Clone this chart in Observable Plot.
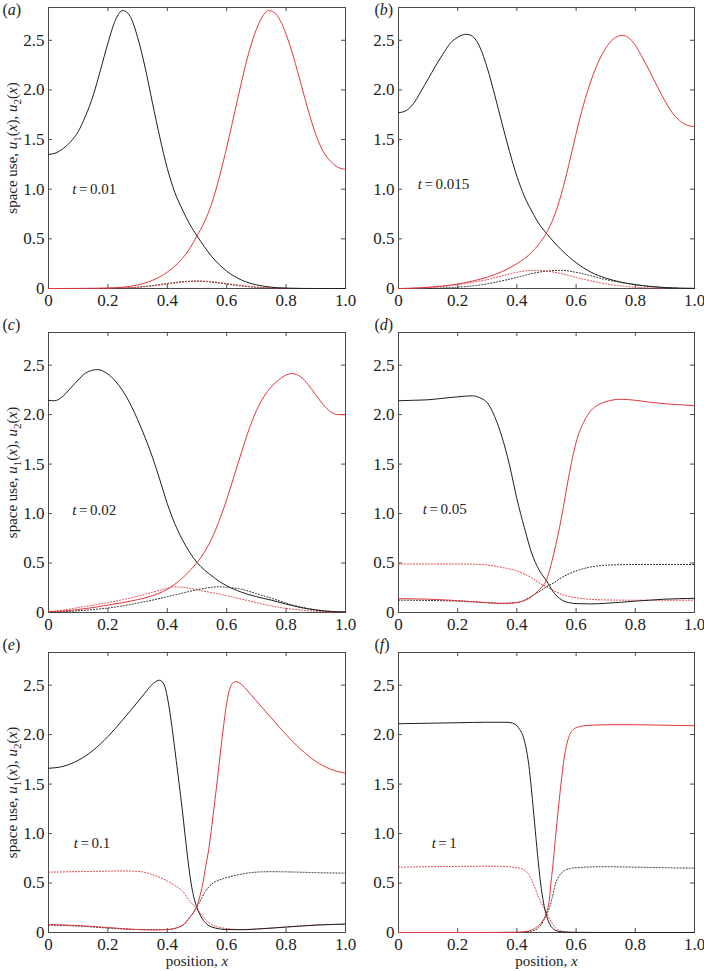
<!DOCTYPE html>
<html><head><meta charset="utf-8">
<script src="https://cdn.jsdelivr.net/npm/d3@7"></script>
<script src="https://cdn.jsdelivr.net/npm/@observablehq/plot@0.6"></script>
<style>
body{margin:0;background:#fff;}
#fig{position:relative;width:704px;height:971px;}
#fig svg{position:absolute;overflow:visible;}
</style></head><body><div id="fig"></div>
<script>
// ---------- data ----------
const xTicks = [0, 0.2, 0.4, 0.6, 0.8, 1.0];
const yTicks = [0, 0.5, 1.0, 1.5, 2.0, 2.5];
const panelLetters = ["a", "b", "c", "d", "e", "f"];
const timeValues = ["0.01", "0.015", "0.02", "0.05", "0.1", "1"];
const timeLabelAt = [[0.08, 1.005], [0.065, 1.05], [0.08, 1.03], [0.082, 1.04], [0.085, 0.9], [0.112, 0.9]];

// (a) t = 0.01
const a_u1 = [[0,1.35],[0.025,1.365],[0.05,1.41],[0.075,1.48],[0.1,1.58],[0.125,1.74],[0.15,1.94],[0.175,2.20],[0.2,2.47],[0.225,2.70],[0.25,2.80],[0.275,2.74],[0.3,2.53],[0.325,2.23],[0.35,1.87],[0.375,1.52],[0.4,1.21],[0.425,0.97],[0.45,0.80],[0.475,0.65],[0.5,0.53],[0.525,0.42],[0.55,0.32],[0.575,0.24],[0.6,0.175],[0.65,0.085],[0.7,0.037],[0.75,0.013],[0.8,0.004],[0.9,0],[1,0]];
const a_u2 = [[0,0],[0.1,0.001],[0.2,0.005],[0.25,0.013],[0.3,0.036],[0.35,0.082],[0.4,0.165],[0.45,0.30],[0.475,0.40],[0.5,0.53],[0.525,0.67],[0.55,0.86],[0.575,1.12],[0.6,1.42],[0.625,1.75],[0.65,2.08],[0.675,2.38],[0.7,2.61],[0.725,2.76],[0.74,2.80],[0.76,2.78],[0.78,2.70],[0.8,2.56],[0.825,2.33],[0.85,2.06],[0.875,1.79],[0.9,1.55],[0.925,1.38],[0.95,1.28],[0.975,1.22],[1,1.20]];
const a_v1 = [[0.2,0.001],[0.25,0.005],[0.3,0.014],[0.35,0.03],[0.4,0.05],[0.45,0.068],[0.5,0.074],[0.55,0.064],[0.6,0.045],[0.65,0.025],[0.7,0.012],[0.8,0.002]];
const a_v2 = [[0.2,0.002],[0.3,0.012],[0.35,0.025],[0.4,0.045],[0.45,0.064],[0.5,0.074],[0.55,0.068],[0.6,0.05],[0.65,0.03],[0.7,0.014],[0.75,0.005],[0.8,0.001]];

// (b) t = 0.015
const b_u1 = [[0,1.77],[0.025,1.79],[0.05,1.86],[0.075,1.98],[0.1,2.11],[0.125,2.24],[0.15,2.36],[0.175,2.47],[0.2,2.53],[0.23,2.56],[0.25,2.54],[0.275,2.43],[0.3,2.22],[0.325,1.95],[0.35,1.66],[0.375,1.38],[0.4,1.13],[0.425,0.93],[0.45,0.78],[0.475,0.65],[0.5,0.555],[0.55,0.39],[0.6,0.26],[0.65,0.165],[0.7,0.105],[0.75,0.065],[0.8,0.038],[0.85,0.02],[0.9,0.009],[0.95,0.004],[1,0.002]];
const b_u2 = [[0,0],[0.05,0.004],[0.1,0.012],[0.15,0.025],[0.2,0.045],[0.25,0.075],[0.3,0.115],[0.35,0.17],[0.4,0.25],[0.425,0.30],[0.45,0.365],[0.475,0.45],[0.5,0.56],[0.525,0.72],[0.55,0.95],[0.575,1.24],[0.6,1.56],[0.625,1.85],[0.65,2.09],[0.675,2.28],[0.7,2.42],[0.725,2.51],[0.757,2.55],[0.775,2.53],[0.8,2.45],[0.825,2.32],[0.85,2.18],[0.875,2.03],[0.9,1.89],[0.925,1.77],[0.95,1.69],[0.975,1.645],[1,1.63]];
const b_v1 = [[0.1,0.002],[0.15,0.006],[0.2,0.013],[0.25,0.026],[0.3,0.047],[0.35,0.077],[0.4,0.112],[0.45,0.15],[0.5,0.175],[0.55,0.183],[0.6,0.163],[0.65,0.128],[0.7,0.09],[0.75,0.062],[0.8,0.04],[0.85,0.022],[0.9,0.01],[0.95,0.003]];
const b_v2 = [[0.05,0.003],[0.1,0.01],[0.15,0.022],[0.2,0.04],[0.25,0.062],[0.3,0.09],[0.35,0.128],[0.4,0.163],[0.45,0.183],[0.5,0.175],[0.55,0.15],[0.6,0.112],[0.65,0.077],[0.7,0.047],[0.75,0.026],[0.8,0.013],[0.85,0.006],[0.9,0.002]];

// (c) t = 0.02
const c_u1 = [[0,2.145],[0.02,2.14],[0.05,2.19],[0.075,2.27],[0.1,2.35],[0.125,2.42],[0.165,2.455],[0.2,2.41],[0.225,2.34],[0.25,2.24],[0.275,2.11],[0.3,1.95],[0.325,1.77],[0.35,1.57],[0.375,1.34],[0.4,1.10],[0.425,0.90],[0.45,0.74],[0.475,0.61],[0.5,0.505],[0.525,0.43],[0.55,0.37],[0.575,0.315],[0.6,0.27],[0.65,0.205],[0.7,0.16],[0.75,0.125],[0.8,0.085],[0.85,0.05],[0.9,0.025],[0.95,0.01],[1,0.005]];
const c_u2 = [[0,0.01],[0.05,0.015],[0.1,0.03],[0.15,0.05],[0.2,0.075],[0.25,0.10],[0.3,0.13],[0.35,0.17],[0.4,0.235],[0.425,0.285],[0.45,0.345],[0.475,0.42],[0.5,0.505],[0.525,0.61],[0.55,0.75],[0.575,0.93],[0.6,1.14],[0.625,1.38],[0.65,1.62],[0.675,1.85],[0.7,2.04],[0.725,2.18],[0.75,2.28],[0.775,2.35],[0.8,2.40],[0.82,2.415],[0.85,2.38],[0.875,2.30],[0.9,2.20],[0.925,2.10],[0.95,2.03],[0.975,2.00],[1,2.00]];
const c_v1 = [[0,0.003],[0.05,0.008],[0.1,0.017],[0.15,0.03],[0.2,0.045],[0.25,0.067],[0.3,0.095],[0.35,0.125],[0.4,0.16],[0.45,0.195],[0.5,0.23],[0.55,0.255],[0.575,0.26],[0.6,0.255],[0.65,0.235],[0.7,0.19],[0.75,0.145],[0.8,0.095],[0.85,0.055],[0.9,0.028],[0.95,0.012],[1,0.005]];
const c_v2 = [[0,0.005],[0.05,0.025],[0.1,0.05],[0.15,0.075],[0.2,0.10],[0.25,0.13],[0.3,0.165],[0.35,0.205],[0.4,0.245],[0.425,0.26],[0.45,0.255],[0.5,0.23],[0.55,0.2],[0.6,0.17],[0.65,0.135],[0.7,0.1],[0.75,0.067],[0.8,0.042],[0.85,0.025],[0.9,0.013],[0.95,0.006],[1,0.003]];

// (d) t = 0.05
const d_u1 = [[0,2.14],[0.05,2.145],[0.1,2.15],[0.15,2.165],[0.2,2.18],[0.25,2.19],[0.275,2.17],[0.3,2.12],[0.325,1.98],[0.35,1.77],[0.375,1.49],[0.4,1.15],[0.425,0.86],[0.45,0.60],[0.475,0.43],[0.5,0.32],[0.525,0.20],[0.55,0.13],[0.575,0.10],[0.6,0.09],[0.65,0.087],[0.7,0.093],[0.75,0.103],[0.8,0.115],[0.85,0.125],[0.9,0.135],[0.95,0.14],[1,0.143]];
const d_u2 = [[0,0.14],[0.05,0.138],[0.1,0.135],[0.15,0.128],[0.2,0.12],[0.25,0.11],[0.3,0.098],[0.35,0.092],[0.4,0.10],[0.425,0.12],[0.45,0.16],[0.475,0.23],[0.5,0.33],[0.525,0.6],[0.55,0.95],[0.575,1.37],[0.6,1.72],[0.625,1.92],[0.65,2.04],[0.675,2.10],[0.7,2.13],[0.75,2.155],[0.8,2.145],[0.85,2.125],[0.9,2.11],[0.95,2.10],[1,2.09]];
const d_v1 = [[0,0.125],[0.1,0.122],[0.2,0.115],[0.3,0.1],[0.35,0.093],[0.4,0.1],[0.45,0.165],[0.475,0.21],[0.5,0.26],[0.525,0.3],[0.55,0.35],[0.6,0.42],[0.65,0.46],[0.7,0.478],[0.75,0.483],[0.8,0.485],[0.9,0.485],[1,0.485]];
const d_v2 = [[0,0.49],[0.1,0.49],[0.2,0.49],[0.25,0.488],[0.3,0.48],[0.35,0.455],[0.4,0.42],[0.45,0.35],[0.475,0.30],[0.5,0.26],[0.525,0.22],[0.55,0.185],[0.6,0.15],[0.65,0.133],[0.7,0.127],[0.8,0.124],[0.9,0.124],[1,0.125]];

// (e) t = 0.1
const e_u1 = [[0,1.66],[0.05,1.68],[0.1,1.74],[0.15,1.84],[0.2,1.98],[0.25,2.15],[0.3,2.33],[0.327,2.43],[0.35,2.51],[0.374,2.55],[0.39,2.50],[0.4,2.38],[0.41,2.2],[0.42,1.98],[0.43,1.74],[0.44,1.5],[0.45,1.25],[0.46,0.98],[0.47,0.72],[0.48,0.5],[0.49,0.35],[0.5,0.25],[0.51,0.18],[0.525,0.11],[0.55,0.055],[0.6,0.03],[0.65,0.028],[0.7,0.035],[0.8,0.055],[0.9,0.075],[1,0.085]];
const e_u2 = [[0,0.08],[0.1,0.07],[0.2,0.05],[0.3,0.03],[0.35,0.025],[0.4,0.03],[0.45,0.07],[0.475,0.15],[0.49,0.21],[0.5,0.27],[0.51,0.37],[0.52,0.5],[0.53,0.68],[0.54,0.85],[0.55,1.08],[0.56,1.33],[0.57,1.58],[0.58,1.85],[0.59,2.1],[0.6,2.32],[0.61,2.46],[0.62,2.52],[0.63,2.535],[0.645,2.52],[0.665,2.46],[0.7,2.34],[0.75,2.17],[0.8,2.0],[0.85,1.85],[0.9,1.73],[0.95,1.65],[1,1.61]];
const e_v1 = [[0,0.075],[0.1,0.065],[0.2,0.045],[0.3,0.03],[0.4,0.03],[0.45,0.07],[0.475,0.15],[0.5,0.26],[0.516,0.35],[0.525,0.40],[0.55,0.49],[0.575,0.53],[0.6,0.555],[0.65,0.59],[0.7,0.61],[0.75,0.615],[0.8,0.613],[0.9,0.605],[1,0.60]];
const e_v2 = [[0,0.61],[0.1,0.615],[0.2,0.62],[0.25,0.622],[0.3,0.618],[0.327,0.606],[0.35,0.585],[0.4,0.52],[0.425,0.475],[0.45,0.42],[0.475,0.32],[0.5,0.24],[0.51,0.2],[0.525,0.14],[0.55,0.08],[0.6,0.04],[0.65,0.03],[0.7,0.035],[0.8,0.055],[0.9,0.075],[1,0.083]];

// (f) t = 1
const f_u1 = [[0,2.11],[0.1,2.115],[0.2,2.12],[0.3,2.125],[0.36,2.125],[0.38,2.12],[0.39,2.11],[0.4,2.09],[0.41,2.05],[0.42,1.99],[0.43,1.88],[0.44,1.7],[0.45,1.42],[0.46,1.1],[0.47,0.78],[0.48,0.5],[0.49,0.3],[0.5,0.17],[0.51,0.09],[0.52,0.045],[0.53,0.022],[0.55,0.007],[0.6,0.001],[0.7,0],[1,0]];
const f_u2 = [[0,0],[0.3,0],[0.4,0.002],[0.44,0.015],[0.46,0.04],[0.48,0.09],[0.49,0.13],[0.5,0.2],[0.51,0.34],[0.515,0.5],[0.52,0.63],[0.53,0.95],[0.54,1.25],[0.55,1.53],[0.56,1.77],[0.57,1.92],[0.58,2.01],[0.59,2.05],[0.6,2.07],[0.63,2.09],[0.7,2.1],[0.8,2.1],[0.9,2.095],[1,2.09]];
const f_v1 = [[0,0],[0.3,0],[0.4,0.002],[0.45,0.015],[0.47,0.04],[0.48,0.07],[0.49,0.12],[0.5,0.18],[0.51,0.25],[0.52,0.36],[0.53,0.49],[0.54,0.56],[0.55,0.6],[0.56,0.625],[0.58,0.645],[0.6,0.655],[0.7,0.665],[0.8,0.66],[0.9,0.655],[1,0.65]];
const f_v2 = [[0,0.66],[0.1,0.665],[0.2,0.668],[0.3,0.67],[0.35,0.668],[0.4,0.655],[0.42,0.64],[0.43,0.62],[0.44,0.585],[0.45,0.53],[0.46,0.46],[0.47,0.38],[0.48,0.31],[0.49,0.26],[0.5,0.2],[0.51,0.14],[0.52,0.09],[0.53,0.05],[0.55,0.015],[0.6,0.002],[0.7,0],[1,0]];

const panelSeries = [
  {u1: a_u1, u2: a_u2, v1: a_v1, v2: a_v2},
  {u1: b_u1, u2: b_u2, v1: b_v1, v2: b_v2},
  {u1: c_u1, u2: c_u2, v1: c_v1, v2: c_v2},
  {u1: d_u1, u2: d_u2, v1: d_v1, v2: d_v2},
  {u1: e_u1, u2: e_u2, v1: e_v1, v2: e_v2},
  {u1: f_u1, u2: f_u2, v1: f_v1, v2: f_v2}
];

// ---------- layout & style ----------
const BLACK = "#1e1e1e", RED = "#e2373c", AXIS = "#4a4a4a";
const seriesStyle = {
  v1: {stroke: BLACK, dash: "1,2"},
  v2: {stroke: RED, dash: "1,2"},
  u1: {stroke: BLACK, dash: null},
  u2: {stroke: RED, dash: null}
};
const rowsLayout = [
  {top: 0, height: 310, mt: 7, mb: 22, labelDy: 2},
  {top: 310, height: 320, mt: 22, mb: 18, labelDy: -8},
  {top: 630, height: 341, mt: 22, mb: 39, labelDy: -8}
];
const colsLayout = [
  {left: 0, width: 352, ml: 48, mr: 7, labelDx: -46},
  {left: 352, width: 352, ml: 46, mr: 10, labelDx: -24}
];
const fmt = d => d === 0 ? "0" : d.toFixed(1);
const YLABEL = "space use, u1(x), u2(x)";
const XLABEL = "position, x";

const rich = {
  [YLABEL]: 'space use, <tspan font-style="italic">u</tspan><tspan font-size="11" dy="4">1</tspan><tspan dy="-4">(</tspan><tspan font-style="italic">x</tspan>), <tspan font-style="italic">u</tspan><tspan font-size="11" dy="4">2</tspan><tspan dy="-4">(</tspan><tspan font-style="italic">x</tspan>)',
  [XLABEL]: 'position, <tspan font-style="italic">x</tspan>'
};
panelLetters.forEach(l => rich["(" + l + ")"] = '(<tspan font-style="italic">' + l + '</tspan>)');
timeValues.forEach(t => rich["t = " + t] = '<tspan font-style="italic">t</tspan><tspan dx="2.5">=</tspan><tspan dx="2.5">' + t + '</tspan>');

const fig = document.getElementById("fig");

panelSeries.forEach((S, i) => {
  const R = rowsLayout[Math.floor(i / 2)], C = colsLayout[i % 2];
  const fw = C.width - C.ml - C.mr, fh = R.height - R.mt - R.mb;
  const rows = [];
  for (const key of ["v1", "v2", "u1", "u2"]) for (const [x, y] of S[key]) rows.push({key, x, y});
  const marks = [
    Plot.frame({stroke: AXIS}),
    Plot.tickX(xTicks, {x: d => d, stroke: AXIS, insetTop: fh - 4}),
    Plot.tickX(xTicks, {x: d => d, stroke: AXIS, insetBottom: fh - 4}),
    Plot.tickY(yTicks, {y: d => d, stroke: AXIS, insetRight: fw - 4}),
    Plot.tickY(yTicks, {y: d => d, stroke: AXIS, insetLeft: fw - 4}),
    Plot.axisX({ticks: xTicks, tickSize: 0, tickPadding: 5, tickFormat: fmt, label: null, fill: "#222", fontSize: 17}),
    Plot.axisY({ticks: yTicks, tickSize: 0, tickPadding: 4, tickFormat: fmt, label: null, fill: "#222", fontSize: 17})
  ];
  for (const key of ["v1", "v2", "u1", "u2"]) {
    const st = seriesStyle[key];
    marks.push(Plot.line(rows.filter(r => r.key === key), {
      x: "x", y: "y", stroke: st.stroke, strokeWidth: 1, curve: "monotone-x",
      ...(st.dash ? {strokeDasharray: st.dash} : {})
    }));
  }
  marks.push(Plot.text(["(" + panelLetters[i] + ")"], {
    text: d => d, frameAnchor: "top-left", dx: C.labelDx, dy: R.labelDy,
    textAnchor: "start", lineAnchor: "middle", fontSize: 16, fill: "#222"
  }));
  marks.push(Plot.text([{x: timeLabelAt[i][0], y: timeLabelAt[i][1], t: timeValues[i]}], {
    x: "x", y: "y", text: d => "t = " + d.t, textAnchor: "start", lineAnchor: "middle", fontSize: 15, fill: "#222"
  }));
  if (i % 2 === 0) {
    marks.push(Plot.text([YLABEL], {text: d => d, frameAnchor: "left", rotate: -90, dx: -36, textAnchor: "middle", lineAnchor: "middle", fontSize: 15, fill: "#222"}));
  }
  if (i >= 4) {
    marks.push(Plot.text([XLABEL], {text: d => d, frameAnchor: "bottom", dy: 29, textAnchor: "middle", lineAnchor: "middle", fontSize: 15, fill: "#222"}));
  }
  const svg = Plot.plot({
    width: C.width, height: R.height,
    marginLeft: C.ml, marginRight: C.mr, marginTop: R.mt, marginBottom: R.mb,
    x: {domain: [0, 1]},
    y: {domain: [0, 2.83]},
    style: {fontFamily: '"Liberation Serif", "Times New Roman", serif', fontSize: "16px", background: "transparent", overflow: "visible"},
    marks
  });
  svg.querySelectorAll("text").forEach(t => {
    const k = t.textContent;
    if (rich[k]) t.innerHTML = rich[k];
  });
  svg.style.left = C.left + "px";
  svg.style.top = R.top + "px";
  fig.appendChild(svg);
});
</script></body></html>
